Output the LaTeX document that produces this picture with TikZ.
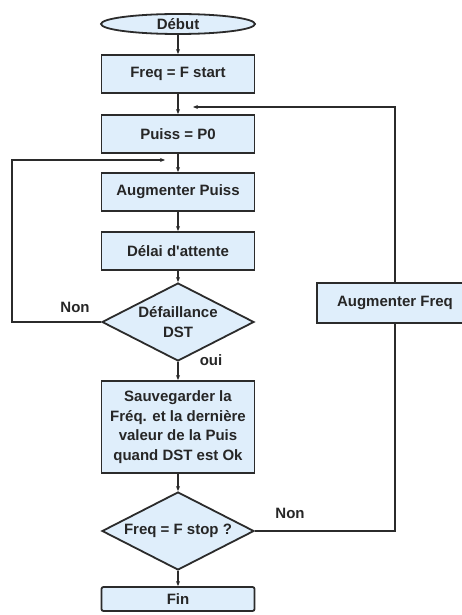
\documentclass[tikz,border=0pt]{standalone}
\usepackage{fontspec}
\setmainfont{Liberation Sans}
\usetikzlibrary{shapes.geometric,arrows.meta}
\definecolor{boxfill}{HTML}{DFEEFB}
\definecolor{boxline}{HTML}{2B2B2B}

\begin{document}
\begin{tikzpicture}[
    x=1pt, y=-1pt,
    every node/.style={font=\bfseries\fontsize{15}{19.5}\selectfont, text=black!85}, % Bold sans text everywhere
    stepbox/.style={draw=boxline, line width=1.8pt, fill=boxfill, minimum width=153pt, minimum height=38pt, align=center, inner sep=2pt}, % Process boxes
    startstop/.style={draw=boxline, line width=1.8pt, fill=boxfill, ellipse, minimum width=154pt, minimum height=20pt, inner sep=0pt}, % Start oval
    decision/.style={draw=boxline, line width=1.8pt, fill=boxfill, diamond, aspect=2, minimum width=152pt, minimum height=78pt, inner sep=0pt, align=center}, % Tests
    link/.style={draw=boxline, line width=1.3pt, -{Stealth[length=5pt, width=4pt]}}, % Arrows
    plain/.style={draw=boxline, line width=1.3pt} % Lines without tip
]
\useasboundingbox (0,0) rectangle (462,615);

% main column
\node[startstop] (debut) at (178,24) {Début};
\node[stepbox] (fstart) at (178,74) {Freq = F start};
\node[stepbox] (p0) at (178,134) {Puiss = P0};
\node[stepbox] (augp) at (178,192) {Augmenter Puiss};
\node[stepbox] (delai) at (178,251) {Délai d\textquotesingle attente};
\node[decision] (dst) at (178,322) {Défaillance\\DST};
\node[stepbox, minimum height=92pt] (save) at (178,427) {Sauvegarder la\\Fréq. et la dernière\\valeur de la Puis\\quand DST est Ok};
\node[decision] (fstop) at (178,531) {Freq = F stop ?};
\node[stepbox, minimum height=24pt, rounded corners=2pt] (fin) at (178,599) {Fin};

% right branch
\node[stepbox, minimum width=156pt, minimum height=40pt] (augf) at (395,303) {Augmenter Freq};

% labels
\node (non1) at (75,307) {Non};
\node (oui) at (211,360) {oui};
\node (non2) at (290,513) {Non};

% loop ends
\coordinate (retf) at (193,107);
\coordinate (retp) at (165,160);

\draw[link] (debut) -- (fstart);
\draw[link] (fstart) -- (p0);
\draw[link] (p0) -- (augp);
\draw[link] (augp) -- (delai);
\draw[link] (delai) -- (dst);
\draw[link] (dst) -- (save);
\draw[link] (save) -- (fstop);
\draw[link] (fstop) -- (fin);
\draw[link] (dst.west) -- ++(-89,0) |- (retp);
\draw[plain] (fstop.east) -| (augf.south);
\draw[link] (augf.north) |- (retf);
\end{tikzpicture}
\end{document}
